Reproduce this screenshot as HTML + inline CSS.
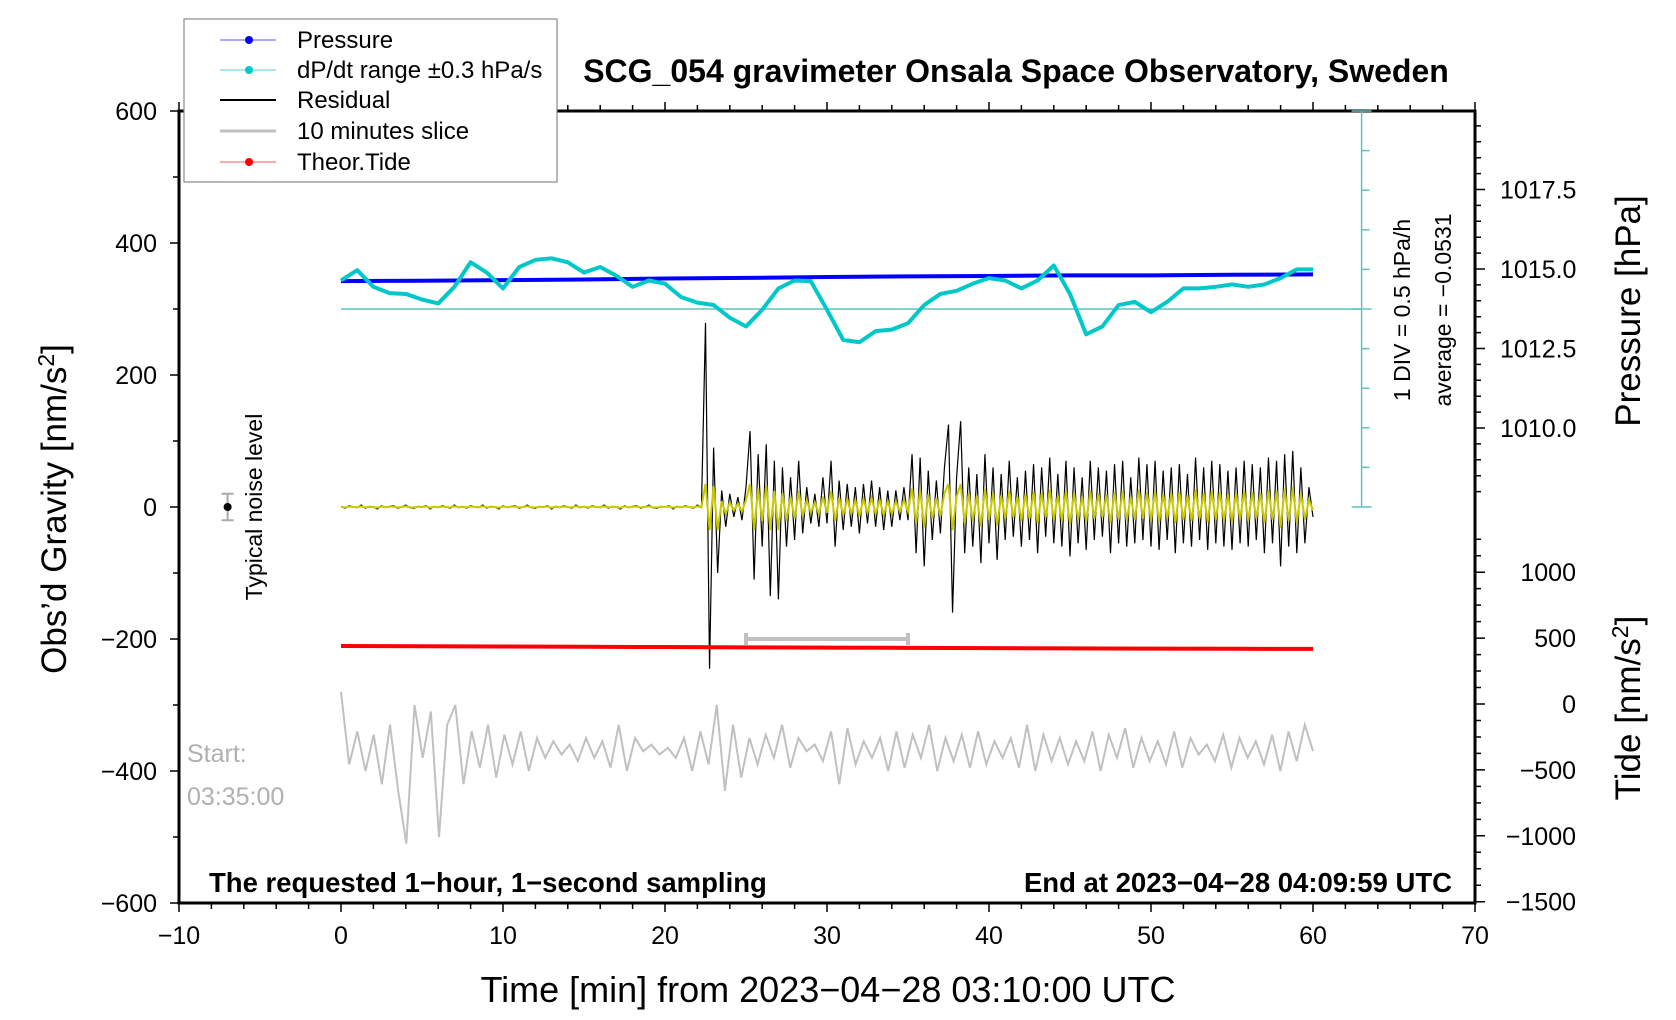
<!DOCTYPE html>
<html><head><meta charset="utf-8"><style>
body{margin:0;background:#fff}
svg{display:block;font-family:"Liberation Sans",sans-serif}
</style></head><body>
<svg id="c" width="1676" height="1020" viewBox="0 0 1676 1020">
<g id="marks"></g>
<g id="axes"></g>
</svg>
<script>
const xTicks=[-10,0,10,20,30,40,50,60,70];
const yTicks=[600,400,200,0,-200,-400,-600];
const pTicks=["1017.5","1015.0","1012.5","1010.0"];
const tideTicks=[1000,500,0,-500,-1000,-1500];
const pressure=[1014.62,1014.63,1014.65,1014.67,1014.7,1014.72,1014.75,1014.77,1014.78,1014.8,1014.8,1014.82,1014.83];
const dpdt=[0.36,0.49,0.28,0.20,0.19,0.12,0.07,0.28,0.59,0.46,0.26,0.53,0.62,0.64,0.59,0.46,0.53,0.42,0.28,0.36,0.32,0.15,0.08,0.05,-0.11,-0.22,-0.01,0.26,0.36,0.35,-0.01,-0.39,-0.42,-0.28,-0.26,-0.18,0.05,0.19,0.23,0.32,0.39,0.36,0.26,0.36,0.55,0.19,-0.32,-0.22,0.05,0.09,-0.04,0.09,0.26,0.26,0.28,0.31,0.28,0.31,0.39,0.50,0.50];
const tide=[440,438,436,434,432,430,428,426,424,422,420,419,418];
const residual=[1,-2,2,0,-1,3,-2,1,0,-3,2,-1,1,2,-2,0,3,-1,-2,1,0,2,-3,1,-1,2,0,-2,3,-1,1,-2,2,0,-1,3,-2,1,0,-3,2,-1,1,2,-2,0,3,-1,-2,1,0,2,-3,1,-1,2,0,-2,3,-1,1,-2,2,0,-1,3,-2,1,0,-3,2,-1,1,2,-2,0,3,-1,-2,1,0,2,-3,1,-1,2,0,-2,3,-1,
279,-245,90,-100,25,-30,20,-15,15,-20,30,115,-110,80,-60,95,-135,70,-140,60,-60,45,-50,70,-40,30,-25,20,-30,45,-25,70,-60,40,-35,35,-30,30,-40,35,-25,40,-30,30,-35,25,-30,25,-20,30,-20,80,-70,75,-90,55,-50,40,-40,60,125,-160,45,130,-70,60,-60,50,-85,80,-55,60,-80,50,-50,70,-45,45,-60,55,-50,65,-70,60,-45,75,-55,50,-60,70,-75,60,-55,45,-65,70,-50,60,-45,55,-70,65,-55,70,-60,45,-55,75,-50,65,-60,70,-65,55,-50,60,-70,65,-55,50,-60,75,-50,60,-65,70,-55,65,-60,55,-65,60,-55,70,-60,65,-50,60,-70,75,-55,70,-90,80,-60,85,-70,60,-55,30,-15];
const slice=[-280,-390,-340,-400,-345,-420,-330,-430,-510,-300,-380,-310,-500,-330,-300,-420,-340,-395,-330,-410,-345,-390,-340,-400,-350,-380,-355,-375,-360,-385,-350,-380,-355,-395,-330,-400,-350,-370,-360,-375,-365,-380,-350,-400,-340,-390,-300,-430,-330,-410,-350,-390,-345,-380,-330,-395,-350,-370,-360,-385,-340,-420,-335,-390,-355,-380,-350,-400,-340,-395,-345,-380,-330,-400,-350,-385,-345,-395,-340,-390,-355,-380,-350,-395,-330,-400,-345,-385,-350,-390,-355,-385,-340,-400,-345,-380,-335,-395,-350,-385,-355,-390,-340,-395,-350,-375,-360,-385,-345,-395,-350,-380,-355,-390,-345,-400,-340,-385,-330,-370];

const NS='http://www.w3.org/2000/svg';
const X=m=>179+(m+10)*16.2;
const Y=v=>507-v*0.66;
const P=h=>269-(h-1015)*31.8;
const T=t=>704-t*0.1318;
const D=d=>309-d*79.2;
const marks=document.getElementById('marks'),axes=document.getElementById('axes');
function el(tag,at,parent){const e=document.createElementNS(NS,tag);for(const k in at)e.setAttribute(k,at[k]);(parent||marks).appendChild(e);return e;}
function txt(s,at,parent){const e=el('text',at,parent);e.textContent=s;return e;}
const tx=(arr,i)=>i*60/(arr.length-1);

let e=el('line',{x1:X(0),x2:X(63),y1:D(0),y2:D(0),stroke:'#5fc4c0','stroke-width':1.5});

e=el('polyline',{points:pressure.map((v,i)=>X(tx(pressure,i))+','+P(v)).join(' '),fill:'none',stroke:'#0000ff','stroke-width':4});

e=el('polyline',{points:dpdt.map((v,i)=>X(tx(dpdt,i))+','+D(v)).join(' '),fill:'none',stroke:'#00c8c8','stroke-width':4,'stroke-linejoin':'round'});

e=el('polyline',{points:residual.map((v,i)=>X(tx(residual,i))+','+Y(v)).join(' '),fill:'none',stroke:'#000','stroke-width':1.2});

e=el('polyline',{points:residual.map((v,i)=>X(tx(residual,i))+','+Y(Math.max(-35,Math.min(35,v*0.35)))).join(' '),fill:'none',stroke:'#c8c800','stroke-width':2});

e=el('polyline',{points:tide.map((v,i)=>X(tx(tide,i))+','+T(v)).join(' '),fill:'none',stroke:'#ff0000','stroke-width':4});

e=el('polyline',{points:slice.map((v,i)=>X(tx(slice,i))+','+Y(v)).join(' '),fill:'none',stroke:'#c0c0c0','stroke-width':2});

e=el('path',{d:`M${X(25)},${Y(-200)-6}V${Y(-200)+6}M${X(25)},${Y(-200)}H${X(35)}M${X(35)},${Y(-200)-6}V${Y(-200)+6}`,stroke:'#c0c0c0','stroke-width':4,fill:'none'});

e=el('path',{d:`M${X(-7)},${Y(20)}V${Y(-20)}M${X(-7)-6},${Y(20)}h12M${X(-7)-6},${Y(-20)}h12`,stroke:'#aaa','stroke-width':2,fill:'none'});

e=el('circle',{cx:X(-7),cy:Y(0),r:4,fill:'#000'});


const L=X(-10),R=X(70),Tp=Y(600),B=Y(-600);
e=el('rect',{x:L,y:Tp,width:R-L,height:B-Tp,fill:'none',stroke:'#000','stroke-width':3},axes);

let tk='';
for(let m=-10;m<=70;m+=2){const big=m%10===0;tk+=`M${X(m)},${B}v${big?9:6}M${X(m)},${Tp}v${big?-9:-6}`;}
for(let v=-600;v<=600;v+=100){tk+=`M${L},${Y(v)}h${v%200===0?-9:-6}`;}
for(let h=1008;h<=1019.5;h+=0.5){const y=P(h);if(y>Tp&&y<=Y(0)+2)tk+=`M${R},${y}h${Math.abs((h-1010)%2.5)<0.01?10:6}`;}
for(let t=-1500;t<=1250;t+=125){const y=T(t);if(y>=530&&y<=B)tk+=`M${R},${y}h${t%500===0?10:6}`;}
e=el('path',{d:tk,stroke:'#000','stroke-width':1.5,fill:'none'},axes);

let dd=`M${X(63)},${Tp}V${Y(0)}M${X(63)-10},${Tp}h20M${X(63)-10},${Y(0)}h20M${X(63)-10},${D(0)}h20`;
for(let k=-5;k<=5;k++)dd+=`M${X(63)},${D(k*0.5)}h8`;
e=el('path',{d:dd,stroke:'#5fc4c0','stroke-width':1.5,fill:'none'},axes);


const fs=25;
xTicks.forEach(v=>{const t=txt(v<0?'−'+(-v):v,{x:X(v),y:944,'font-size':fs,'text-anchor':'middle'},axes);});
yTicks.forEach(v=>{const t=txt(v<0?'−'+(-v):v,{x:157,y:Y(v)+9,'font-size':fs,'text-anchor':'end'},axes);});
pTicks.forEach(v=>{const t=txt(v,{x:1500,y:P(+v)+9,'font-size':fs},axes);});
tideTicks.forEach(v=>{const t=txt(v<0?'−'+(-v):v,{x:1576,y:T(v)+9,'font-size':fs,'text-anchor':'end'},axes);});
</script>
<svg style="position:absolute;left:0;top:0" width="1676" height="1020">
<text x="1016" y="82" font-size="32" font-weight="bold" text-anchor="middle" font-family="Liberation Sans, sans-serif">SCG_054 gravimeter Onsala Space Observatory, Sweden</text>
<text x="828" y="1002" font-size="36" text-anchor="middle" font-family="Liberation Sans, sans-serif">Time [min] from 2023−04−28 03:10:00 UTC</text>
<text transform="translate(66,509) rotate(-90)" font-size="35" text-anchor="middle" font-family="Liberation Sans, sans-serif">Obs’d Gravity [nm/s<tspan dy="-12" font-size="23">2</tspan><tspan dy="12">]</tspan></text>
<text transform="translate(1640,311) rotate(-90)" font-size="35" text-anchor="middle" font-family="Liberation Sans, sans-serif">Pressure [hPa]</text>
<text transform="translate(1640,708) rotate(-90)" font-size="35" text-anchor="middle" font-family="Liberation Sans, sans-serif">Tide [nm/s<tspan dy="-12" font-size="23">2</tspan><tspan dy="12">]</tspan></text>
<text transform="translate(1410,310) rotate(-90)" font-size="23" text-anchor="middle" font-family="Liberation Sans, sans-serif">1 DIV = 0.5 hPa/h</text>
<text transform="translate(1451,310) rotate(-90)" font-size="23" text-anchor="middle" font-family="Liberation Sans, sans-serif">average = −0.0531</text>
<text transform="translate(262,507) rotate(-90)" font-size="23" text-anchor="middle" font-family="Liberation Sans, sans-serif">Typical noise level</text>
<text x="187" y="762" font-size="25" fill="#b0b0b0" font-family="Liberation Sans, sans-serif">Start:</text>
<text x="187" y="805" font-size="25" fill="#b0b0b0" font-family="Liberation Sans, sans-serif">03:35:00</text>
<text x="209" y="892" font-size="27.5" font-weight="bold" font-family="Liberation Sans, sans-serif">The requested 1−hour, 1−second sampling</text>
<text x="1452" y="892" font-size="27.5" font-weight="bold" text-anchor="end" font-family="Liberation Sans, sans-serif">End at 2023−04−28 04:09:59 UTC</text>
<g font-family="Liberation Sans, sans-serif" font-size="24">
<rect x="184" y="19" width="373" height="163" fill="#fff" stroke="#888" stroke-width="1.2"/>
<g><line x1="220" x2="276" y1="40" y2="40" stroke="#5555ff"/><circle cx="249" cy="40" r="4" fill="#00f"/><text x="297" y="48">Pressure</text></g>
<g><line x1="220" x2="276" y1="70" y2="70" stroke="#55d0d0"/><circle cx="249" cy="70" r="4" fill="#00c8c8"/><text x="297" y="78">dP/dt range ±0.3 hPa/s</text></g>
<g><line x1="220" x2="276" y1="100" y2="100" stroke="#000" stroke-width="2"/><text x="297" y="108">Residual</text></g>
<g><line x1="220" x2="276" y1="131" y2="131" stroke="#c0c0c0" stroke-width="3"/><text x="297" y="139">10 minutes slice</text></g>
<g><line x1="220" x2="276" y1="162" y2="162" stroke="#ff5555"/><circle cx="249" cy="162" r="4" fill="#f00"/><text x="297" y="170">Theor.Tide</text></g>
</g>
</svg>
</body></html>
